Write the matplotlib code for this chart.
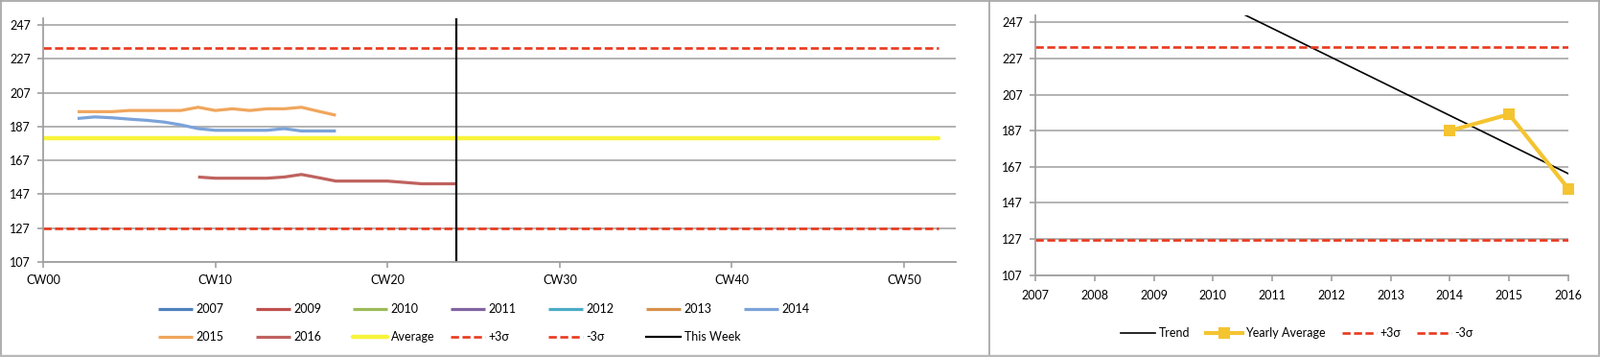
import numpy as np
import matplotlib
matplotlib.use("Agg")
import matplotlib.pyplot as plt
from matplotlib.lines import Line2D

plt.rcParams['font.family'] = ['Lato', 'DejaVu Sans']
plt.rcParams['lines.scale_dashes'] = False

# ---------------- data ----------------
week_ticks = [0, 10, 20, 30, 40, 50]
week_labels = ['CW00', 'CW10', 'CW20', 'CW30', 'CW40', 'CW50']
y_ticks = [107, 127, 147, 167, 187, 207, 227, 247]

weeks_2014 = list(range(2, 18))
vals_2014 = [191.8, 192.7, 192.2, 191.4, 190.7, 189.7, 188.0, 185.8,
             184.8, 184.8, 184.8, 184.8, 185.8, 184.4, 184.4, 184.4]
weeks_2015 = list(range(2, 18))
vals_2015 = [195.8, 195.8, 195.8, 196.5, 196.5, 196.5, 196.5, 198.4,
             196.5, 197.5, 196.5, 197.5, 197.5, 198.4, 196.0, 193.7]
weeks_2016 = list(range(9, 25))
vals_2016 = [157.2, 156.5, 156.5, 156.5, 156.5, 157.2, 158.7, 156.8,
             154.8, 154.8, 154.8, 154.8, 154.0, 153.2, 153.2, 153.2]

ref_weeks = [0, 52]
average = 180.0
plus3s = 233.2
minus3s = 126.7
this_week = 24

years = [2007, 2008, 2009, 2010, 2011, 2012, 2013, 2014, 2015, 2016]
avg_years = [2014, 2015, 2016]
yearly_avg = [187.0, 196.1, 154.8]

# ---------------- styles ----------------
W, H = 1669, 372
fig = plt.figure(figsize=(W / 100, H / 100), dpi=100)
fig.patch.set_facecolor('white')

grid_c = '#ADADAD'
spine_c = '#A0A0A0'
red = '#E8391E'
FS = 9

def px(x0, y0, x1, y1):
    return [x0 / W, 1 - y1 / H, (x1 - x0) / W, (y1 - y0) / H]

def style_axes(ax):
    ax.set_facecolor('white')
    for s in ['top', 'right']:
        ax.spines[s].set_visible(False)
    for s in ['left', 'bottom']:
        ax.spines[s].set_color(spine_c)
        ax.spines[s].set_linewidth(1.3)
    ax.set_yticks(y_ticks)
    ax.set_ylim(107, 251)
    ax.yaxis.grid(True, color=grid_c, linewidth=1.3)
    ax.set_axisbelow(True)
    ax.tick_params(axis='both', colors=spine_c, labelcolor='black',
                   labelsize=FS, length=4, width=1.2, direction='out')
    ax.tick_params(axis='y', pad=5.5)

# ---------------- left panel ----------------
ax1 = fig.add_axes(px(45, 19, 997, 273))
style_axes(ax1)
ax1.set_xlim(0, 53)
ax1.set_xticks(week_ticks)
ax1.set_xticklabels(week_labels)
ax1.tick_params(axis='x', pad=5.5)

legend_series = [
    ('2007', '#4F81BD', [], []),
    ('2009', '#C0504D', [], []),
    ('2010', '#9BBB59', [], []),
    ('2011', '#8064A2', [], []),
    ('2012', '#4BACC6', [], []),
    ('2013', '#D8904A', [], []),
    ('2014', '#7BA3D9', weeks_2014, vals_2014),
    ('2015', '#F0A65C', weeks_2015, vals_2015),
    ('2016', '#BF625E', weeks_2016, vals_2016),
]
handles = {}
for name, col, xs, ys in legend_series:
    ln, = ax1.plot(xs, ys, color=col, lw=2.3, solid_capstyle='butt')
    handles[name] = ln

h_avg, = ax1.plot(ref_weeks, [average, average], color='#F8F43A', lw=3.2,
                  solid_capstyle='round')
h_p3, = ax1.plot(ref_weeks, [plus3s, plus3s], color=red, lw=1.9,
                 dashes=(6, 2.6))
h_m3, = ax1.plot(ref_weeks, [minus3s, minus3s], color=red, lw=1.9,
                 dashes=(6, 2.6))
h_tw = ax1.axvline(this_week, color='black', lw=1.6)
handles['Average'] = h_avg
handles['+3σ'] = h_p3
handles['-3σ'] = h_m3
handles['This Week'] = h_tw

# ---------------- right panel ----------------
ax2 = fig.add_axes(px(1080, 15.8, 1636, 286.7))
style_axes(ax2)
ax2.set_xlim(years[0], years[-1])
ax2.set_xticks(years)
ax2.set_xticklabels([str(y) for y in years])
ax2.tick_params(axis='x', pad=7)

coef = np.polyfit(avg_years, yearly_avg, 1)
yrs = np.array(years, dtype=float)
h_trend, = ax2.plot(yrs, np.polyval(coef, yrs), color='black', lw=1.2)
h_yavg, = ax2.plot(avg_years, yearly_avg, color='#F4C431', lw=3.0,
                   marker='s', markersize=9, markeredgewidth=0, clip_on=False)
h_p3r, = ax2.plot([years[0], years[-1]], [plus3s, plus3s], color=red, lw=1.9,
                  dashes=(6, 2.6))
h_m3r, = ax2.plot([years[0], years[-1]], [minus3s, minus3s], color=red, lw=1.9,
                  dashes=(6, 2.6))

# ---------------- legends ----------------
def put_legend(handle, label, xpx, ypx, hlen_px=36, marker=False):
    fs_px = FS * 100 / 72
    leg = fig.legend([handle], [label], loc='center left',
                     bbox_to_anchor=(xpx / W, 1 - ypx / H),
                     frameon=False, fontsize=FS, borderpad=0,
                     borderaxespad=0, handlelength=hlen_px / fs_px,
                     handletextpad=0.28, numpoints=1)
    return leg

row1 = ['2007', '2009', '2010', '2011', '2012', '2013', '2014']
row2 = ['2015', '2016', 'Average', '+3σ', '-3σ', 'This Week']
col_x = [165, 267, 368, 470, 572, 674, 776]
for i, lab in enumerate(row1):
    put_legend(handles[lab], lab, col_x[i], 322)
for i, lab in enumerate(row2):
    put_legend(handles[lab], lab, col_x[i], 351)

put_legend(h_trend, 'Trend', 1169, 347)
put_legend(h_yavg, 'Yearly Average', 1258, 347, hlen_px=38)
put_legend(h_p3r, '+3σ', 1400, 347)
put_legend(h_m3r, '-3σ', 1478, 347)

# ---------------- panel borders ----------------
bc = '#A8A8A8'
def fline(x0, y0, x1, y1, lw=1.3, c=bc):
    fig.add_artist(Line2D([x0 / W, x1 / W], [1 - y0 / H, 1 - y1 / H],
                          color=c, lw=lw, transform=fig.transFigure))

fline(0.5, 0.7, W - 0.5, 0.7)
fline(0.7, 0, 0.7, H)
fline(W - 1, 0, W - 1, H)
fline(1032, 0, 1032, H)
fline(0, H - 1.5, W, H - 1.5, lw=2.5, c='#B8B8B8')

fig.savefig('out.png', dpi=100, facecolor='white')
